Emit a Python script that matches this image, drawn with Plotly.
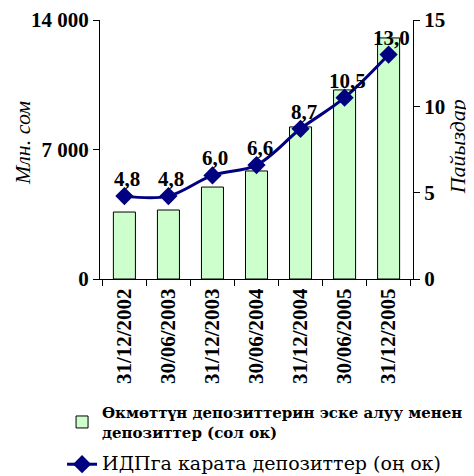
import plotly.graph_objects as go

dates = ["31/12/2002", "30/06/2003", "31/12/2003", "30/06/2004",
         "31/12/2004", "30/06/2005", "31/12/2005"]
deposits_mln = [3620, 3730, 4970, 5840, 8220, 10220, 13030]
deposits_gdp = [4.8, 4.8, 6.0, 6.6, 8.7, 10.5, 13.0]
left_ticks = [0, 7000, 14000]
right_ticks = [0, 5, 10, 15]

bar_name = "<b>Өкмөттүн депозиттерин эске алуу менен<br>депозиттер (сол ок)</b>"
line_name = "<span style='font-size:19px'>ИДПга карата депозиттер (оң ок)</span>"

FONT = "Liberation Serif"
LEG_FONT = "DejaVu Serif"

fig = go.Figure()
fig.add_trace(go.Bar(
    x=dates, y=deposits_mln, name=bar_name, legendgroup="bars",
    marker=dict(color="#CCFFCC", line=dict(color="black", width=1)),
    yaxis="y",
))
fig.add_trace(go.Scatter(
    x=dates, y=deposits_gdp, name=line_name, yaxis="y2", legendgroup="line",
    mode="lines+markers",
    line=dict(color="#000080", width=3, shape="spline"),
    marker=dict(symbol="diamond", size=14, color="#000080"),
    cliponaxis=False,
))

labels = [
    dict(text=f"<b>{v:.1f}</b>".replace(".", ","), x=d, y=v, xref="x", yref="y2",
         yshift=17, xshift=3, showarrow=False,
         font=dict(family=FONT, size=21, color="black"))
    for d, v in zip(dates, deposits_gdp)
]

fig.update_layout(
    width=466, height=468,
    margin=dict(l=92, r=61, t=12, b=197, autoexpand=False),
    plot_bgcolor="white", paper_bgcolor="white",
    font=dict(family=FONT, color="black"),
    separators=", ",
    bargap=0.5,
    showlegend=True,
    legend=dict(
        xref="container", yref="container",
        x=0.116, y=0.171, xanchor="left", yanchor="top",
        font=dict(family=LEG_FONT, size=15, color="black"),
        bgcolor="rgba(0,0,0,0)", traceorder="grouped",
        itemwidth=30, tracegroupgap=10,
    ),
    xaxis=dict(
        showline=True, linecolor="black", linewidth=1,
        ticks="outside", tickson="boundaries", ticklen=6, tickcolor="black",
        tickangle=-90, automargin=False,
        tickfont=dict(family=FONT, size=21, weight="bold"),
        showgrid=False,
    ),
    yaxis=dict(
        range=[0, 14000], tickvals=left_ticks,
        showline=True, linecolor="black", linewidth=1,
        ticks="outside", ticklen=6, tickcolor="black",
        tickformat=",d", automargin=False,
        tickfont=dict(family=FONT, size=21, weight="bold"),
        showgrid=False, zeroline=False,
    ),
    yaxis2=dict(
        range=[0, 15], tickvals=right_ticks,
        overlaying="y", side="right", automargin=False,
        showline=True, linecolor="black", linewidth=1,
        ticks="outside", ticklen=6, tickcolor="black",
        tickfont=dict(family=FONT, size=21, weight="bold"),
        showgrid=False, zeroline=False,
    ),
    annotations=labels + [
        dict(text="Млн. сом", textangle=-90, xref="paper", yref="paper",
             x=-0.249, y=0.525, xanchor="center", yanchor="middle", showarrow=False,
             font=dict(family=FONT, size=22, style="italic")),
        dict(text="Пайыздар", textangle=-90, xref="paper", yref="paper",
             x=1.142, y=0.51, xanchor="center", yanchor="middle", showarrow=False,
             font=dict(family=FONT, size=22, style="italic")),
    ],
)

fig.write_html("out.html")
